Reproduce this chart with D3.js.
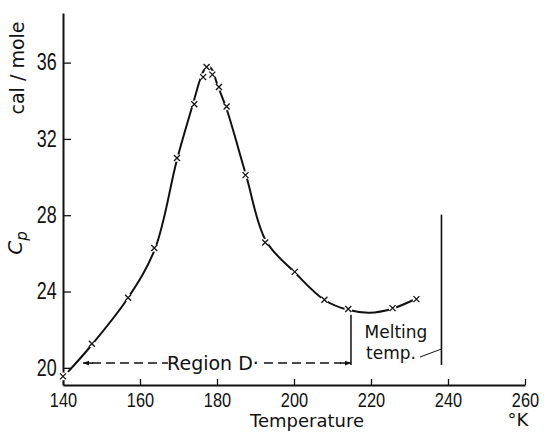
<!DOCTYPE html>
<html>
<head>
<meta charset="utf-8">
<script src="https://cdn.jsdelivr.net/npm/d3@7"></script>
<style>
  body { margin: 0; background: #fff; }
  svg { display: block; }
  .tick text { font-family: "Liberation Sans", Arial, sans-serif; fill: #111; }
  .lbl { font-family: "DejaVu Sans", sans-serif; fill: #111; }
</style>
</head>
<body>
<div id="chart"></div>
<script>
// measured points (x marks)
var measT  = [140.0, 147.5, 156.9, 163.7, 169.6, 174.1, 176.4, 177.3, 178.8, 180.5, 182.5, 187.4, 192.5, 200.2, 207.9, 214.1, 225.6, 231.8];
var measCp = [19.55, 21.26, 23.67, 26.28, 31.0, 33.82, 35.24, 35.77, 35.37, 34.72, 33.7, 30.1, 26.57, 25.03, 23.57, 23.08, 23.13, 23.6];

// smooth curve drawn through the points
var curveT  = [141.3, 147.5, 156.9, 163.9, 169.6, 174.0, 175.6, 176.9, 177.9, 178.8, 180.0, 182.6, 187.5, 192.7, 200.3, 207.8, 214.0, 219.7, 225.5, 231.7];
var curveCp = [19.79, 21.21, 23.67, 26.24, 30.91, 34.0, 35.1, 35.69, 35.8, 35.6, 34.9, 33.5, 30.13, 26.66, 24.98, 23.57, 23.04, 22.89, 23.10, 23.62];

var xTicks = [140, 160, 180, 200, 220, 240, 260];
var yTicks = [20, 24, 28, 32, 36];

// annotations
var regionD = [145.2, 214.8];   // arrow ends, K
var regionDLevel = 20.25;       // Cp level of the arrow
var regionDTop = 22.78;
var meltT = 238.3;
var meltRange = [20.15, 28.03];

var width = 546, height = 433;

var x = d3.scaleLinear().domain([140, 260]).range([63, 525]);
var y = d3.scaleLinear().domain([19.1, 38.6]).range([385, 13]);

var svg = d3.select('#chart').append('svg')
  .attr('width', width)
  .attr('height', height);

svg.append('defs').append('marker')
  .attr('id', 'ah')
  .attr('viewBox', '0 0 10 10')
  .attr('refX', 10).attr('refY', 5)
  .attr('markerWidth', 11).attr('markerHeight', 6)
  .attr('markerUnits', 'userSpaceOnUse')
  .attr('orient', 'auto-start-reverse')
  .append('path')
  .attr('d', 'M0,1L10,5L0,9Z')
  .attr('fill', '#111');

// axes
var xAxis = svg.append('g')
  .attr('transform', 'translate(0,' + y(19.1) + ')')
  .call(d3.axisBottom(x).tickValues(xTicks).tickSize(-6).tickSizeOuter(0).tickPadding(7));
xAxis.selectAll('text')
  .style('font-size', '21px')
  .attr('transform', 'scale(0.78,1)');

var yAxis = svg.append('g')
  .attr('transform', 'translate(' + x(140) + ',0)')
  .call(d3.axisLeft(y).tickValues(yTicks).tickSize(-8).tickSizeOuter(0).tickPadding(8));
yAxis.selectAll('text')
  .style('font-size', '23px')
  .attr('transform', 'scale(0.78,1)');

svg.selectAll('.domain').attr('stroke', '#111').attr('stroke-width', 2);
svg.selectAll('.tick line').attr('stroke', '#111').attr('stroke-width', 1.3);

// curve
var line = d3.line()
  .x(function (d) { return x(d[0]); })
  .y(function (d) { return y(d[1]); })
  .curve(d3.curveCatmullRom.alpha(0.5));

svg.append('path')
  .datum(d3.zip(curveT, curveCp))
  .attr('d', line)
  .attr('fill', 'none')
  .attr('stroke', '#111')
  .attr('stroke-width', 2);

// markers with small white gap round them
var pts = svg.append('g').selectAll('g')
  .data(d3.zip(measT, measCp))
  .enter().append('g')
  .attr('transform', function (d) { return 'translate(' + x(d[0]) + ',' + y(d[1]) + ')'; });
pts.append('circle').attr('r', 3.8).attr('fill', '#fff');
pts.append('path')
  .attr('d', 'M-3,-3L3,3M-3,3L3,-3')
  .attr('stroke', '#111')
  .attr('stroke-width', 1.3);

// Region D arrow
var ay = y(regionDLevel);
svg.append('line')
  .attr('x1', x(regionD[0]) + 9).attr('x2', 168)
  .attr('y1', ay).attr('y2', ay)
  .attr('stroke', '#111').attr('stroke-width', 1.5)
  .attr('stroke-dasharray', '9,5');
svg.append('line')
  .attr('x1', x(regionD[0]) + 10).attr('x2', x(regionD[0]))
  .attr('y1', ay).attr('y2', ay)
  .attr('stroke', '#111').attr('stroke-width', 1.5)
  .attr('marker-end', 'url(#ah)');
svg.append('line')
  .attr('x1', 264).attr('x2', x(regionD[1]) - 10)
  .attr('y1', ay).attr('y2', ay)
  .attr('stroke', '#111').attr('stroke-width', 1.5)
  .attr('stroke-dasharray', '9,5');
svg.append('line')
  .attr('x1', x(regionD[1]) - 11).attr('x2', x(regionD[1]))
  .attr('y1', ay).attr('y2', ay)
  .attr('stroke', '#111').attr('stroke-width', 1.5)
  .attr('marker-end', 'url(#ah)');
svg.append('text').attr('class', 'lbl')
  .attr('x', 213).attr('y', ay + 7)
  .attr('text-anchor', 'middle')
  .style('font-size', '19px')
  .text('Region D\u00b7');

svg.append('line')
  .attr('x1', x(regionD[1])).attr('x2', x(regionD[1]))
  .attr('y1', y(regionDLevel) + 2).attr('y2', y(regionDTop))
  .attr('stroke', '#111').attr('stroke-width', 1.5);

// melting temperature
svg.append('line')
  .attr('x1', x(meltT)).attr('x2', x(meltT))
  .attr('y1', y(meltRange[0])).attr('y2', y(meltRange[1]))
  .attr('stroke', '#111').attr('stroke-width', 1.6);
var melt = svg.append('text').attr('class', 'lbl')
  .attr('text-anchor', 'middle')
  .style('font-size', '17px');
melt.append('tspan').attr('x', 396).attr('y', 338).text('Melting');
melt.append('tspan').attr('x', 391).attr('dy', 20.5).text('temp.');
svg.append('line')
  .attr('x1', 420).attr('y1', 357)
  .attr('x2', x(meltT)).attr('y2', 349)
  .attr('stroke', '#111').attr('stroke-width', 1);

// axis titles
svg.append('text').attr('class', 'lbl')
  .attr('x', 307).attr('y', 427)
  .attr('text-anchor', 'middle')
  .style('font-size', '18px')
  .text('Temperature');
svg.append('text').attr('class', 'lbl')
  .attr('x', 518).attr('y', 426)
  .attr('text-anchor', 'middle')
  .style('font-size', '18px')
  .text('\u00b0K');

svg.append('text').attr('class', 'lbl')
  .attr('transform', 'translate(24,68) rotate(-90)')
  .attr('text-anchor', 'middle')
  .style('font-size', '19px')
  .text('cal / mole');

var cp = svg.append('text').attr('class', 'lbl')
  .attr('transform', 'translate(22,243) rotate(-90)')
  .attr('text-anchor', 'middle')
  .style('font-size', '20px')
  .style('font-style', 'italic');
cp.append('tspan').text('C');
cp.append('tspan').attr('dy', 5).style('font-size', '15px').text('p');
</script>
</body>
</html>
